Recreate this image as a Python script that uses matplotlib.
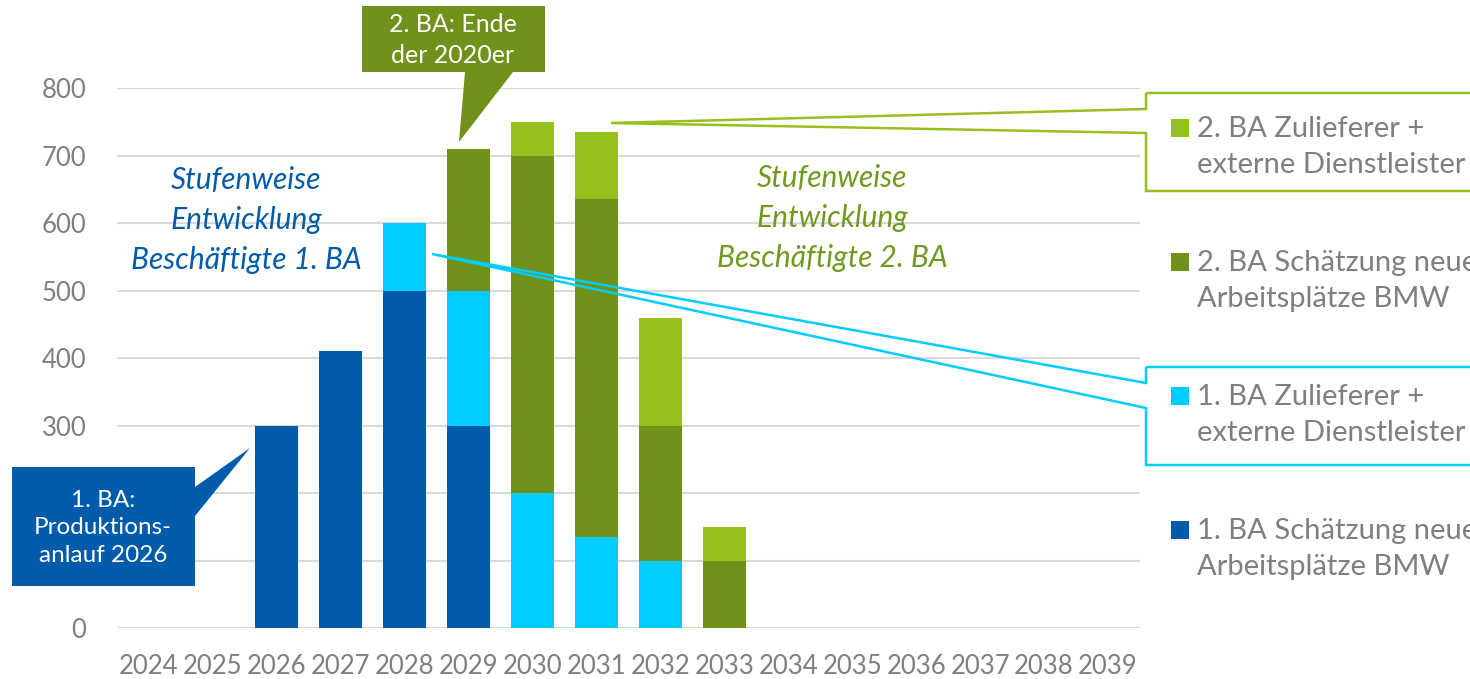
import matplotlib
matplotlib.use("Agg")
import matplotlib.pyplot as plt
from matplotlib.patches import Polygon, Rectangle
import numpy as np

# ---- data -------------------------------------------------------------
years = [2024, 2025, 2026, 2027, 2028, 2029, 2030, 2031,
         2032, 2033, 2034, 2035, 2036, 2037, 2038, 2039]
ba1_bmw = [0, 0, 300, 410, 500, 300, 0, 0, 0, 0, 0, 0, 0, 0, 0, 0]
ba1_zul = [0, 0, 0, 0, 100, 200, 200, 135, 100, 0, 0, 0, 0, 0, 0, 0]
ba2_bmw = [0, 0, 0, 0, 0, 210, 500, 500, 200, 100, 0, 0, 0, 0, 0, 0]
ba2_zul = [0, 0, 0, 0, 0, 0, 50, 100, 160, 50, 0, 0, 0, 0, 0, 0]

series_names = [
    "1. BA Schätzung neuer\nArbeitsplätze BMW",
    "1. BA Zulieferer +\nexterne Dienstleister",
    "2. BA Schätzung neuer\nArbeitsplätze BMW",
    "2. BA Zulieferer +\nexterne Dienstleister",
]
series_values = [ba1_bmw, ba1_zul, ba2_bmw, ba2_zul]
y_ticks = [0, 100, 200, 300, 400, 500, 600, 700, 800]
# 100 and 200 sit behind the start-of-production bubble
y_tick_labels = ["0", "", "", "300", "400", "500", "600", "700", "800"]

# ---- style ------------------------------------------------------------
C_BLUE = "#005BAA"
C_CYAN = "#00CCFF"
C_OLIVE = "#70911A"
C_LIME = "#95C11F"
C_TEXT_GREEN = "#6F9A1F"
C_GRAY = "#7F7F7F"
C_GRID = "#D9D9D9"
colors = [C_BLUE, C_CYAN, C_OLIVE, C_LIME]

FONT = "Lato"
plt.rcParams["font.family"] = [FONT, "DejaVu Sans"]

W, H = 1470, 679
fig = plt.figure(figsize=(W / 100, H / 100), dpi=100)


def px(x, y):
    """Pixel position (origin top-left) to figure fraction."""
    return (x / W, 1 - y / H)


ax = fig.add_axes([117 / W, 1 - 628 / H, (1140 - 117) / W, (628 - 88) / H])

xpos = np.arange(len(years))
bottom = np.zeros(len(years))
for vals, col in zip(series_values, colors):
    v = np.array(vals, dtype=float)
    ax.bar(xpos, v, width=0.67, bottom=bottom, color=col,
           edgecolor="none", zorder=3)
    bottom += v

ax.set_xlim(-0.5, len(years) - 0.5)
ax.set_ylim(0, 800)
ax.set_yticks(y_ticks)
ax.set_yticklabels(y_tick_labels)
ax.set_xticks(xpos)
ax.set_xticklabels([str(y) for y in years])
ax.yaxis.grid(True, color=C_GRID, linewidth=1.5, zorder=0)
ax.set_axisbelow(True)
for s in ax.spines.values():
    s.set_visible(False)
ax.tick_params(axis="both", length=0, colors=C_GRAY, labelsize=18.5)
ax.tick_params(axis="y", pad=22)
ax.tick_params(axis="x", pad=19)
for lbl in ax.get_xticklabels() + ax.get_yticklabels():
    lbl.set_color(C_GRAY)

# ---- italic phase descriptions -----------------------------------------
fig.text(*px(246, 220), "Stufenweise\nEntwicklung\nBeschäftigte 1. BA",
         ha="center", va="center", color=C_BLUE, style="italic",
         fontsize=21.5, linespacing=1.5)
fig.text(*px(832, 218), "Stufenweise\nEntwicklung\nBeschäftigte 2. BA",
         ha="center", va="center", color=C_TEXT_GREEN, style="italic",
         fontsize=21.5, linespacing=1.5)

# ---- filled speech-bubble callouts --------------------------------------
blue_bubble = [(12, 467), (195, 467), (195, 487), (250, 448),
               (195, 516), (195, 586), (12, 586)]
fig.patches.append(Polygon([px(*p) for p in blue_bubble], closed=True,
                           transform=fig.transFigure, facecolor=C_BLUE,
                           edgecolor="none", zorder=5))
fig.text(*px(103, 528), "1. BA:\nProduktions-\nanlauf 2026", ha="center",
         va="center", color="white", fontsize=17.5, linespacing=1.4, zorder=6)

green_bubble = [(362, 6), (545, 6), (545, 72), (513, 72),
                (459, 142), (465, 72), (362, 72)]
fig.patches.append(Polygon([px(*p) for p in green_bubble], closed=True,
                           transform=fig.transFigure, facecolor=C_OLIVE,
                           edgecolor="none", zorder=5))
fig.text(*px(453, 40), "2. BA: Ende\nder 2020er", ha="center", va="center",
         color="white", fontsize=18, linespacing=1.4, zorder=6)

# ---- outlined callouts round the supplier legend entries ----------------
green_frame = [(1146, 93), (1520, 93), (1520, 191), (1146, 191),
               (1146, 133), (611, 123), (1146, 109)]
cyan_frame = [(1146, 367), (1520, 367), (1520, 465), (1146, 465),
              (1146, 408), (432, 254), (1146, 383)]
for frame, col in [(green_frame, C_LIME), (cyan_frame, C_CYAN)]:
    fig.patches.append(Polygon([px(*p) for p in frame], closed=True,
                               transform=fig.transFigure, facecolor="none",
                               edgecolor=col, linewidth=1.8, zorder=4,
                               joinstyle="miter"))

# ---- legend (top entry = last stacked series) ---------------------------
entry_y = [128, 262, 396, 530]
for i, (name, col) in enumerate(zip(series_names[::-1], colors[::-1])):
    yc = entry_y[i]
    x0, y0 = px(1171, yc + 9)
    fig.patches.append(Rectangle((x0, y0), 18 / W, 18 / H,
                                 transform=fig.transFigure, facecolor=col,
                                 edgecolor="none", zorder=5))
    fig.text(*px(1197, yc + 19), name, ha="left", va="center",
             color=C_GRAY, fontsize=21, linespacing=1.5, zorder=6)

fig.savefig("out.png", dpi=100)
